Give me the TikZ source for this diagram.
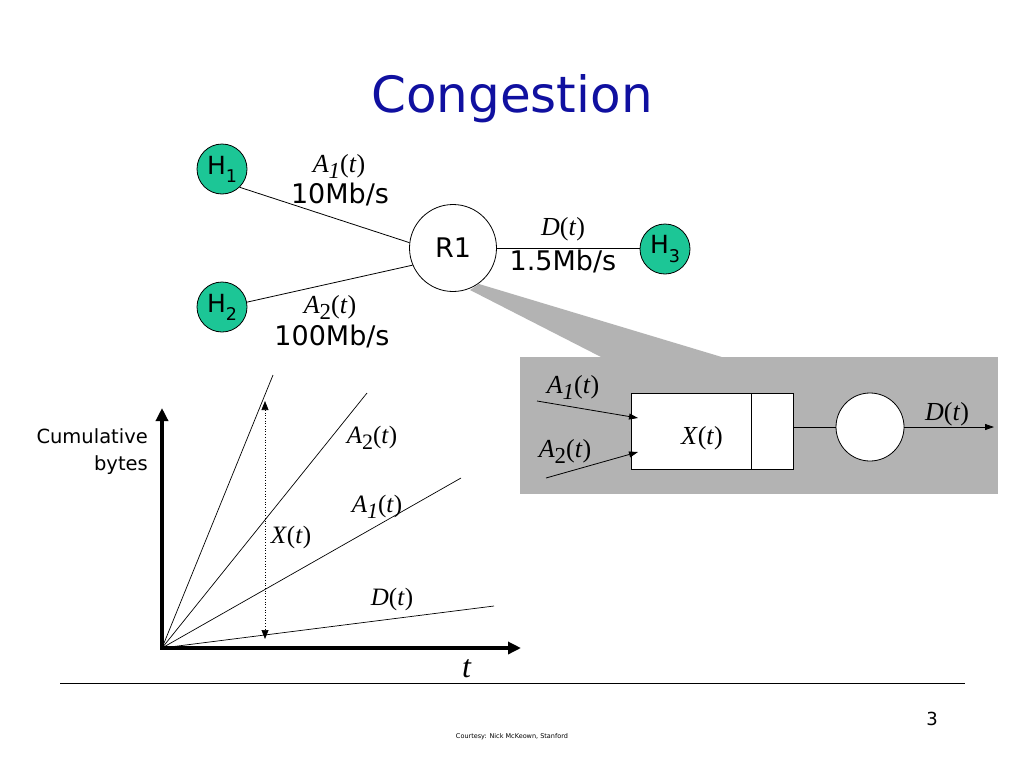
\documentclass[tikz,border=0pt]{standalone}
\usepackage{fontspec}
\setmainfont{Liberation Serif}
\newfontfamily\sansf{DejaVu Sans}
\usetikzlibrary{arrows.meta}
\definecolor{titleblue}{RGB}{16,16,160}
\definecolor{hostgreen}{RGB}{28,198,150}
\definecolor{boxgray}{RGB}{179,179,179}
\newcommand{\lowsub}[1]{\raisebox{-0.55ex}{\scalebox{0.88}{#1}}}
\newcommand{\hsub}[1]{\raisebox{-0.6ex}{\scalebox{0.7}{#1}}}
\newcommand{\Aone}{\textit{A}\lowsub{\textit{1}}(\textit{t})}
\newcommand{\Atwo}{\textit{A}\lowsub{2}(\textit{t})}
\newcommand{\Dtt}{\textit{D}(\textit{t})}
\newcommand{\Xtt}{\textit{X}(\textit{t})}
\begin{document}
\begin{tikzpicture}[x=1pt,y=-1pt,
  host/.style={circle,draw=black,line width=0.8pt,fill=hostgreen,minimum size=50pt,inner sep=0pt,font=\sansf\fontsize{25}{28}\selectfont},
  router/.style={circle,draw=black,line width=0.8pt,fill=white,minimum size=87pt,inner sep=0pt,font=\sansf\fontsize{27}{30}\selectfont},
  link/.style={draw=black,line width=0.8pt},
  rate/.style={anchor=base,inner sep=0pt,font=\sansf\fontsize{27}{30}\selectfont},
  mlab/.style={anchor=base,inner sep=0pt,font=\fontsize{26}{30}\selectfont},
  glab/.style={anchor=base,inner sep=0pt,font=\fontsize{25}{28}\selectfont},
  thin arrow/.style={draw=black,line width=0.8pt,-{Triangle[length=9pt,width=6pt]}},
  axis/.style={draw=black,line width=3.5pt,-{Triangle[length=13pt,width=12pt]}},
  curve/.style={draw=black,line width=0.7pt}]
\useasboundingbox[fill=white] (0,0) rectangle (1024,768);

% title
\node[anchor=base,inner sep=0pt,text=titleblue,font=\sansf\fontsize{50}{56}\selectfont] (title) at (512,112) {Congestion};

% callout wedge and box
\fill[boxgray] (470,290) -- (479,284) -- (725,358) -- (603,358) -- cycle;
\fill[boxgray] (520,357) rectangle (998,494);

% network
\node[router] (R1) at (453,248) {R1};
\node[host] (H1) at (222,169) {H\hsub{1}};
\node[host] (H2) at (222,307) {H\hsub{2}};
\node[host] (H3) at (665,249) {H\hsub{3}};
\draw[link] (H1.-46) -- (R1.173);
\draw[link] (H2.11) -- (R1.203);
\draw[link] (R1.east) -- (R1.east -| H3.west);

\node[mlab] (a1top) at (339,172) {\Aone};
\node[rate] (r10) at (340,203) {10Mb/s};
\node[mlab] (a2top) at (330,313) {\Atwo};
\node[rate] (r100) at (332,345) {100Mb/s};
\node[mlab] (dtop) at (563,235) {\Dtt};
\node[rate] (r15) at (563,270) {1.5Mb/s};

% queue model
\node[draw=black,line width=0.8pt,fill=white,minimum width=162pt,minimum height=76pt,inner sep=0pt] (queue) at (712,431) {};
\draw[line width=0.8pt] (751,393) -- (751,469);
\node[circle,draw=black,line width=0.8pt,fill=white,minimum size=68pt,inner sep=0pt] (srv) at (870,427) {};
\draw[link] (srv.west) -- (srv.west -| queue.east);
\coordinate (dout) at (994,427);
\draw[thin arrow] (srv.east) -- (dout);
\coordinate (a1s) at (537,401);
\coordinate (a1e) at (638,418);
\coordinate (a2s) at (546,478);
\coordinate (a2e) at (638,452);
\draw[thin arrow] (a1s) -- (a1e);
\draw[thin arrow] (a2s) -- (a2e);
\node[mlab] (a1box) at (573,393) {\Aone};
\node[mlab] (a2box) at (565,457) {\Atwo};
\node[mlab] (xbox) at (702,444) {\Xtt};
\node[mlab] (dbox) at (947,420) {\Dtt};

% graph
\coordinate (O) at (162,648);
\coordinate (ytop) at (162,408);
\coordinate (xend) at (521,648);
\coordinate (c0) at (273,375);
\coordinate (c1) at (367,393);
\coordinate (c2) at (461,478);
\coordinate (c3) at (494,606);
\draw[curve] (O) -- (c0);
\draw[curve] (O) -- (c1);
\draw[curve] (O) -- (c2);
\draw[curve] (O) -- (c3);
\draw[axis] ([xshift=-1.75pt]O) -- (xend);
\draw[axis] ([yshift=-1.75pt]O) -- (ytop);
\coordinate (xt1) at (265,401);
\coordinate (xt2) at (265,639);
\draw[line width=0.7pt,dotted,{Triangle[length=9pt,width=7pt]}-{Triangle[length=9pt,width=7pt]}] (xt1) -- (xt2);
\node[glab] (ga2) at (372,443) {\Atwo};
\node[glab] (ga1) at (377,512) {\Aone};
\node[glab] (gx) at (291,543) {\Xtt};
\node[glab] (gd) at (392,605) {\Dtt};
\node[anchor=base,inner sep=0pt,font=\fontsize{32}{36}\selectfont] (tlab) at (467,677) {\textit{t}};
\node[anchor=base east,inner sep=0pt,align=right,font=\sansf\fontsize{19.5}{27}\selectfont] (cum) at (148,470) {Cumulative\\bytes};

% footer
\coordinate (rl) at (60,683);
\coordinate (rr) at (965,683);
\draw[line width=0.8pt] (rl) -- (rr);
\node[anchor=base,inner sep=0pt,font=\sansf\fontsize{18}{20}\selectfont] (pnum) at (932,725) {3};
\node[anchor=base,inner sep=0pt,font=\sansf\fontsize{6.5}{8}\selectfont] (court) at (512,738) {Courtesy: Nick McKeown, Stanford};
\end{tikzpicture}
\end{document}
